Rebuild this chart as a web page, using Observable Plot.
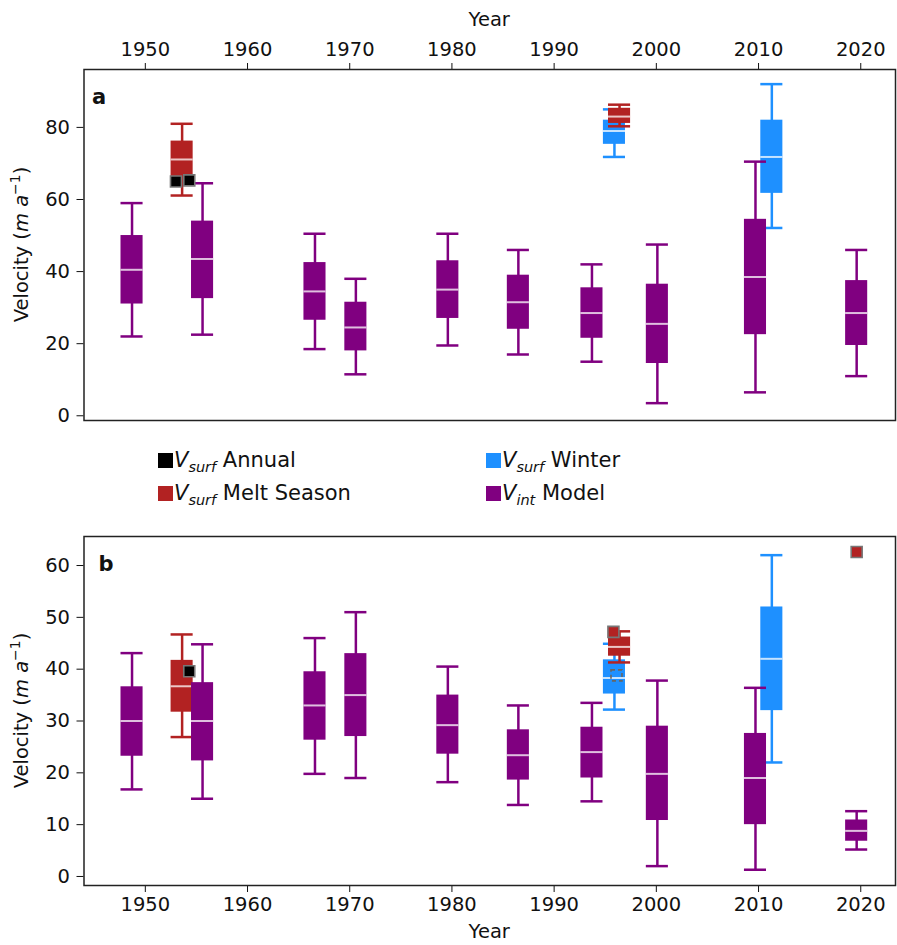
<!DOCTYPE html>
<html><head><meta charset="utf-8">
<script src="https://cdn.jsdelivr.net/npm/d3@7"></script>
<script src="https://cdn.jsdelivr.net/npm/@observablehq/plot@0.6"></script>
<style>
body{margin:0;background:#fff;font-family:"DejaVu Sans",sans-serif;}
#wrap{position:relative;width:897px;height:945px;overflow:hidden;}
.panel{position:absolute;left:0;}
.leg{position:absolute;font-size:21px;line-height:22px;white-space:nowrap;color:#111;}
.leg .sw{display:inline-block;width:15px;height:15px;vertical-align:-1px;margin-right:1px;}
.leg i sub{font-size:14.5px;}
</style></head><body>
<div id="wrap"></div>
<script>
// ---------- data ----------
const yearTicks = [1950, 1960, 1970, 1980, 1990, 2000, 2010, 2020];
const yTicksA = [0, 20, 40, 60, 80];
const yTicksB = [0, 10, 20, 30, 40, 50, 60];

// box stats: [whisker low, Q1, median, Q3, whisker high]
const modelYears = [1948.7, 1955.6, 1966.6, 1970.6, 1979.6, 1986.5, 1993.7, 2000.1, 2009.7, 2019.6];
const modelA = [
  [22, 31, 40.5, 50, 59], [22.5, 32.5, 43.5, 54, 64.5], [18.5, 26.5, 34.5, 42.5, 50.5],
  [11.5, 18, 24.5, 31.5, 38], [19.5, 27, 35, 43, 50.5], [17, 24, 31.5, 39, 46],
  [15, 21.5, 28.5, 35.5, 42], [3.5, 14.5, 25.5, 36.5, 47.5], [6.5, 22.5, 38.5, 54.5, 70.5],
  [11, 19.5, 28.5, 37.5, 46]
];
const modelB = [
  [16.8, 23.2, 30, 36.6, 43.1], [15, 22.3, 30, 37.4, 44.8], [19.8, 26.3, 33, 39.5, 46],
  [19, 27, 35, 43, 51], [18.2, 23.6, 29.2, 35, 40.5], [13.8, 18.6, 23.4, 28.3, 33],
  [14.5, 19, 24, 28.8, 33.5], [2, 10.8, 19.8, 29, 37.8], [1.3, 10, 19, 27.6, 36.4],
  [5.2, 6.8, 8.8, 10.9, 12.6]
];
const meltYears = [1953.6, 1996.4];
const meltA = [[61.1, 63.6, 71.1, 76.2, 81], [80.3, 81.1, 83, 85.3, 86.3]];
const meltB = [[26.9, 31.7, 36.7, 41.7, 46.7], [41.3, 42.5, 44.3, 46.2, 47.3]];
const winterYears = [1995.9, 2011.3];
const winterA = [[71.8, 75.3, 79, 82, 85], [52.1, 61.7, 71.8, 82, 92]];
const winterB = [[32.2, 35.2, 38.3, 41.8, 44.9], [22, 32, 42, 52, 62]];

// point markers
const annualAYears = [1953.0, 1954.3];
const annualAValues = [65.0, 65.3];
const annualBYears = [1954.3];
const annualBValues = [39.6];
const annualBHollowYears = [1996.1];
const annualBHollowValues = [38.8];
const meltPtBYears = [1995.8, 2019.6];
const meltPtBValues = [47.2, 62.6];

// ---------- styles ----------
const C = {model: "#800080", melt: "#b22222", winter: "#1e90ff", annual: "#000000"};
const HW = 1.08;
const xDomain = [1944.0, 2023.4];

function boxMarks(years, stats, color) {
  const rows = years.map((x, i) => ({x, lo: stats[i][0], q1: stats[i][1], med: stats[i][2], q3: stats[i][3], hi: stats[i][4]}));
  const x1 = d => d.x - HW, x2 = d => d.x + HW;
  return [
    Plot.ruleX(rows, {x: "x", y1: "lo", y2: "hi", stroke: color, strokeWidth: 2.5}),
    Plot.ruleY(rows, {y: "lo", x1, x2, stroke: color, strokeWidth: 2.5}),
    Plot.ruleY(rows, {y: "hi", x1, x2, stroke: color, strokeWidth: 2.5}),
    Plot.rect(rows, {x1, x2, y1: "q1", y2: "q3", fill: color}),
    Plot.ruleY(rows, {y: "med", x1, x2, stroke: "white", strokeOpacity: 0.75, strokeWidth: 2})
  ];
}
function pts(xs, ys, fill, stroke, opts = {}) {
  return Plot.dot(xs.map((x, i) => ({x, y: ys[i]})), {x: "x", y: "y", symbol: "square", r: 6.2, fill, stroke, strokeWidth: 1.6, ...opts});
}

const common = {
  width: 897, marginLeft: 83.5, marginRight: 2,
  style: {fontFamily: "DejaVu Sans, sans-serif", fontSize: "19.5px", color: "#111", background: "transparent"},
  x: {domain: xDomain}
};

const wrap = document.getElementById("wrap");

function addYLabel(svg, cy) {
  const t = d3.select(svg).append("text")
    .attr("transform", `translate(28,${cy}) rotate(-90)`)
    .attr("text-anchor", "middle").attr("font-size", 19.5).attr("fill", "#111");
  t.append("tspan").text("Velocity (");
  t.append("tspan").attr("font-style", "italic").text("m a");
  t.append("tspan").attr("font-size", 14).attr("dy", -8).text("\u22121");
  t.append("tspan").attr("dy", 8).text(")");
}

// ---------- panel a ----------
const plotA = Plot.plot({
  ...common, height: 430, marginTop: 69, marginBottom: 10,
  y: {domain: [-1.31, 96.06]},
  marks: [
    ...boxMarks(winterYears, winterA, C.winter),
    ...boxMarks(meltYears, meltA, C.melt),
    ...boxMarks(modelYears, modelA, C.model),
    pts(annualAYears, annualAValues, C.annual, "#777"),
    Plot.axisX({anchor: "top", ticks: yearTicks, tickFormat: d => String(d), tickSize: 7, tickPadding: 7, label: null}),
    Plot.axisY({ticks: yTicksA, tickSize: 7, tickPadding: 7, label: null}),
    Plot.frame({stroke: "#222", strokeWidth: 1.5})
  ]
});
plotA.classList.add("panel");
plotA.style.top = "0px";
d3.select(plotA).append("text").attr("x", (83.5 + 895) / 2).attr("y", 26).attr("text-anchor", "middle").attr("font-size", 19.5).attr("fill", "#111").text("Year");
d3.select(plotA).append("text").attr("x", 99).attr("y", 104).attr("font-size", 21).attr("font-weight", "bold").attr("fill", "#111").text("a");
addYLabel(plotA, 244.5);
wrap.appendChild(plotA);

// ---------- legend ----------
const legendItems = [
  {color: C.annual, sub: "surf", rest: " Annual", left: 158, top: 449},
  {color: C.melt, sub: "surf", rest: " Melt Season", left: 158, top: 482},
  {color: C.winter, sub: "surf", rest: " Winter", left: 486, top: 449},
  {color: C.model, sub: "int", rest: " Model", left: 486, top: 482}
];
for (const it of legendItems) {
  const d = document.createElement("div");
  d.className = "leg";
  d.style.left = it.left + "px";
  d.style.top = it.top + "px";
  d.innerHTML = `<span class="sw" style="background:${it.color}"></span><i>V<sub>${it.sub}</sub></i>${it.rest}`;
  wrap.appendChild(d);
}

// ---------- panel b ----------
const plotB = Plot.plot({
  ...common, height: 425, marginTop: 16, marginBottom: 60,
  y: {domain: [-1.74, 65.6]},
  marks: [
    ...boxMarks(winterYears, winterB, C.winter),
    ...boxMarks(meltYears, meltB, C.melt),
    ...boxMarks(modelYears, modelB, C.model),
    pts(annualBYears, annualBValues, C.annual, "#777"),
    pts(annualBHollowYears, annualBHollowValues, "none", "#666", {strokeDasharray: "4,3"}),
    pts(meltPtBYears, meltPtBValues, C.melt, "#777"),
    Plot.axisX({anchor: "bottom", ticks: yearTicks, tickFormat: d => String(d), tickSize: 7, tickPadding: 5, label: null}),
    Plot.axisY({ticks: yTicksB, tickSize: 7, tickPadding: 7, label: null}),
    Plot.frame({stroke: "#222", strokeWidth: 1.5})
  ]
});
plotB.classList.add("panel");
plotB.style.top = "520px";
d3.select(plotB).append("text").attr("x", (83.5 + 895) / 2).attr("y", 418).attr("text-anchor", "middle").attr("font-size", 19.5).attr("fill", "#111").text("Year");
d3.select(plotB).append("text").attr("x", 106).attr("y", 51).attr("font-size", 21).attr("font-weight", "bold").attr("fill", "#111").text("b");
addYLabel(plotB, (16 + 365) / 2);
wrap.appendChild(plotB);
</script>
</body></html>
